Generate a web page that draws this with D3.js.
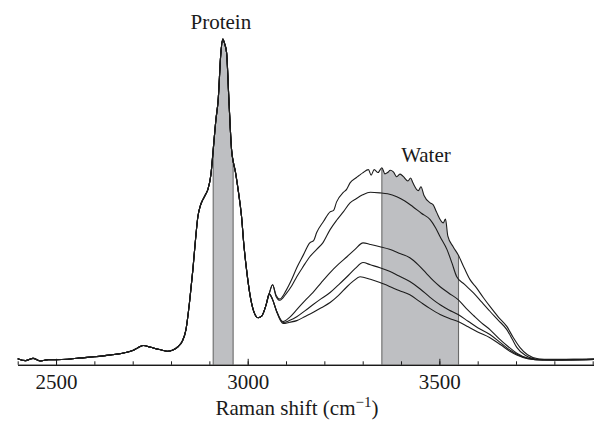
<!DOCTYPE html>
<html>
<head>
<meta charset="utf-8">
<script src="https://cdn.jsdelivr.net/npm/d3@7"></script>
<style>
  html, body { margin: 0; padding: 0; background: #fff; }
  svg { display: block; }
  text { font-family: "Liberation Serif", "Times New Roman", serif; fill: #1a1a1a; }
</style>
</head>
<body>
<script>
// ---------- data (Raman shift in cm^-1, intensity in arbitrary units) ----------
const sharedShift = [2400,2420,2440,2460,2480,2500,2530,2560,2600,2640,2670,2700,2715,2728,2745,2760,2775,2790,2805,2818,2829,2839,2849,2857,2864,2870,2877,2883,2890,2896,2904,2910,2917,2923,2930,2935,2940,2945,2951,2958,2963,2967,2975,2984,2990,2997,3006,3016,3027,3037,3048,3056];
const sharedIntensity = [0.9,0.3,1.0,0.2,0.6,0.6,0.7,1.1,1.5,2.0,2.5,3.4,4.4,5.0,4.5,4.0,3.6,3.2,3.6,4.6,6.2,9.9,19.2,28.5,38,44.9,48.5,50.2,51.8,53.3,57.9,65.6,74.9,81.1,95.7,100,98.5,95.7,81.1,65.6,61.5,59.4,53.3,44.9,36.2,28.5,20.7,15.5,13.6,14.2,17.6,21];

const tailShift1 = [3065,3074,3084,3100,3115,3128,3145,3162,3172,3180,3198,3215,3224,3232,3250,3258,3267,3283,3292,3300,3315,3322,3330,3340,3350,3358,3365,3372,3380,3389,3397,3405,3418,3425,3431,3445,3452,3460,3476,3484,3492,3510,3516,3522,3536,3549,3565,3580,3596,3615,3632,3654,3676,3692,3710,3730,3760,3800,3850,3905];
const tailIntensity1 = [23.8,20.6,19.4,22,25.5,29.1,33,36.8,37.5,40,43.5,46.4,46.9,49.5,52.5,53.4,55.4,57,57.8,58.5,59.5,57.8,59.5,58.6,60.1,58.2,58.6,59.3,58.8,57.3,58.1,57.5,56,56.9,55.4,53,54.2,51.5,49.2,48.6,46.5,43,44.2,39,35.6,33.1,29,25.4,23,19.8,17.1,13.8,10.9,7.6,4.4,2.1,0.8,0.5,0.7,0.8];

const tailShift2 = [3065,3074,3084,3100,3115,3128,3145,3162,3180,3196,3215,3232,3250,3267,3283,3300,3320,3345,3365,3389,3410,3431,3453,3476,3490,3502,3520,3533,3545,3565,3589,3610,3632,3654,3676,3690,3702,3725,3760,3905];
const tailIntensity2 = [23.8,20.2,19.0,21,23.5,26.3,29.5,32.5,34.8,36.8,40.9,43.8,46.5,49.2,50.5,51.7,52.5,52.3,52,51.1,49.8,48,46,44,41.5,38.7,34.7,30.5,26.4,24,21.3,18.5,15.6,12.8,9.9,7,4.4,1.9,0.7,0.7];

const tailShift3 = [3065,3075,3092,3110,3128,3150,3170,3192,3215,3237,3259,3280,3301,3320,3345,3370,3395,3423,3445,3465,3485,3502,3525,3549,3570,3590,3610,3632,3655,3680,3702,3730,3770,3905];
const tailIntensity3 = [19.2,15.8,12.4,13.8,16.1,19,21.4,24.5,27.6,30.2,32.5,34.8,36.8,36.3,35.6,34.8,33.6,32.2,30,27.5,25,23.2,21.2,19.2,16.5,14.2,12,9.9,7.2,4.6,2.6,1.1,0.5,0.7];

const tailShift4 = [3065,3075,3092,3110,3128,3150,3170,3192,3215,3237,3259,3280,3301,3320,3345,3370,3395,3423,3450,3475,3502,3525,3549,3575,3600,3632,3660,3685,3702,3730,3770,3905];
const tailIntensity4 = [19.2,15.8,12.1,12.8,13.9,15.8,17.6,19.5,21.4,23.8,26.3,28.8,30.7,30,29.1,28,26.5,24.8,22.5,20,17.6,16,14.6,12.5,10.5,8.4,5.8,3.5,2.3,1.0,0.5,0.7];

const tailShift5 = [3065,3075,3092,3110,3128,3150,3170,3192,3215,3237,3259,3276,3293,3320,3345,3370,3395,3423,3450,3475,3502,3525,3549,3575,3600,3632,3660,3685,3702,3730,3770,3905];
const tailIntensity5 = [19.2,15.6,11.8,12.2,12.7,14,15.2,16.7,18.3,20.5,23.2,25,26.3,25.5,24.5,23.3,22,20.7,18.5,16.5,14.6,13.4,12.4,10.8,9.2,7.4,5.2,3.1,2.0,0.9,0.5,0.7];

const bandLabels = ["Protein", "Water"];
const bandStart = [2910, 3350];
const bandEnd = [2962, 3550];
const bandLabelShift = [2930, 3465];
const bandLabelIntensity = [103, 62];

const majorTicks = [2500, 3000, 3500];
const minorTicks = d3.range(2400, 3901, 100);
const xTitle = "Raman shift (cm";
const xTitleSup = "\u22121";

// ---------- build ----------
const W = 594, H = 427;
const tails = [
  [tailShift1, tailIntensity1],
  [tailShift2, tailIntensity2],
  [tailShift3, tailIntensity3],
  [tailShift4, tailIntensity4],
  [tailShift5, tailIntensity5]
];
const shared = sharedShift.map((s, i) => ({x: s, y: sharedIntensity[i]}));
const spectra = tails.map(([xs, ys]) => shared.concat(xs.map((s, i) => ({x: s, y: ys[i]}))));

const x = d3.scaleLinear().domain([2400, 3905]).range([17.7, 594.6]);
const y = d3.scaleLinear().domain([-1, 100]).range([364.8, 39]);
const axisY = y(-1);

const svg = d3.select("body").append("svg").attr("width", W).attr("height", H);

const line = d3.line().x(d => x(d.x)).y(d => y(d.y)).curve(d3.curveMonotoneX);
const area = d3.area().x(d => x(d.x)).y0(axisY).y1(d => y(d.y)).curve(d3.curveMonotoneX);

// clip = area under the top spectrum
const defs = svg.append("defs");
defs.append("clipPath").attr("id", "under").append("path").attr("d", area(spectra[0]));

const bands = svg.append("g").attr("clip-path", "url(#under)");
bandStart.forEach((b, i) => {
  bands.append("rect")
    .attr("x", x(b)).attr("y", 0)
    .attr("width", x(bandEnd[i]) - x(b)).attr("height", axisY)
    .attr("fill", "#bebfc2");
  [b, bandEnd[i]].forEach(v => {
    bands.append("line")
      .attr("x1", x(v)).attr("x2", x(v))
      .attr("y1", 0).attr("y2", axisY)
      .attr("stroke", "#6a6a6a").attr("stroke-width", 1.1);
  });
});

// spectra
svg.append("g").selectAll("path").data(spectra).join("path")
  .attr("d", line)
  .attr("fill", "none")
  .attr("stroke", "#1c1c1c")
  .attr("stroke-width", 1.1)
  .attr("stroke-linejoin", "round");

// axis
const gMinor = svg.append("g").attr("transform", `translate(0,${axisY})`)
  .call(d3.axisBottom(x).tickValues(minorTicks).tickSize(-3.5).tickSizeOuter(0).tickFormat(""));
const gMajor = svg.append("g").attr("transform", `translate(0,${axisY})`)
  .call(d3.axisBottom(x).tickValues(majorTicks).tickSize(-6).tickSizeOuter(0).tickPadding(9).tickFormat(d3.format("d")));
[gMinor, gMajor].forEach(g => {
  g.select(".domain").attr("stroke", "#1a1a1a").attr("stroke-width", 1.2);
  g.selectAll(".tick line").attr("stroke", "#1a1a1a").attr("stroke-width", 1);
});
gMajor.selectAll(".tick text")
  .attr("font-family", "'Liberation Serif', 'Times New Roman', serif")
  .attr("font-size", 21).attr("fill", "#1a1a1a");

// axis title
const t = svg.append("text").attr("x", 297).attr("y", 415)
  .attr("text-anchor", "middle").attr("font-size", 21);
t.append("tspan").text(xTitle);
t.append("tspan").attr("font-size", 15).attr("dy", -8).text(xTitleSup);
t.append("tspan").attr("dy", 8).text(")");

// band labels
svg.append("g").selectAll("text").data(bandLabels).join("text")
  .attr("x", (d, i) => x(bandLabelShift[i]))
  .attr("y", (d, i) => y(bandLabelIntensity[i]))
  .attr("text-anchor", "middle")
  .attr("font-size", 21)
  .text(d => d);
</script>
</body>
</html>
